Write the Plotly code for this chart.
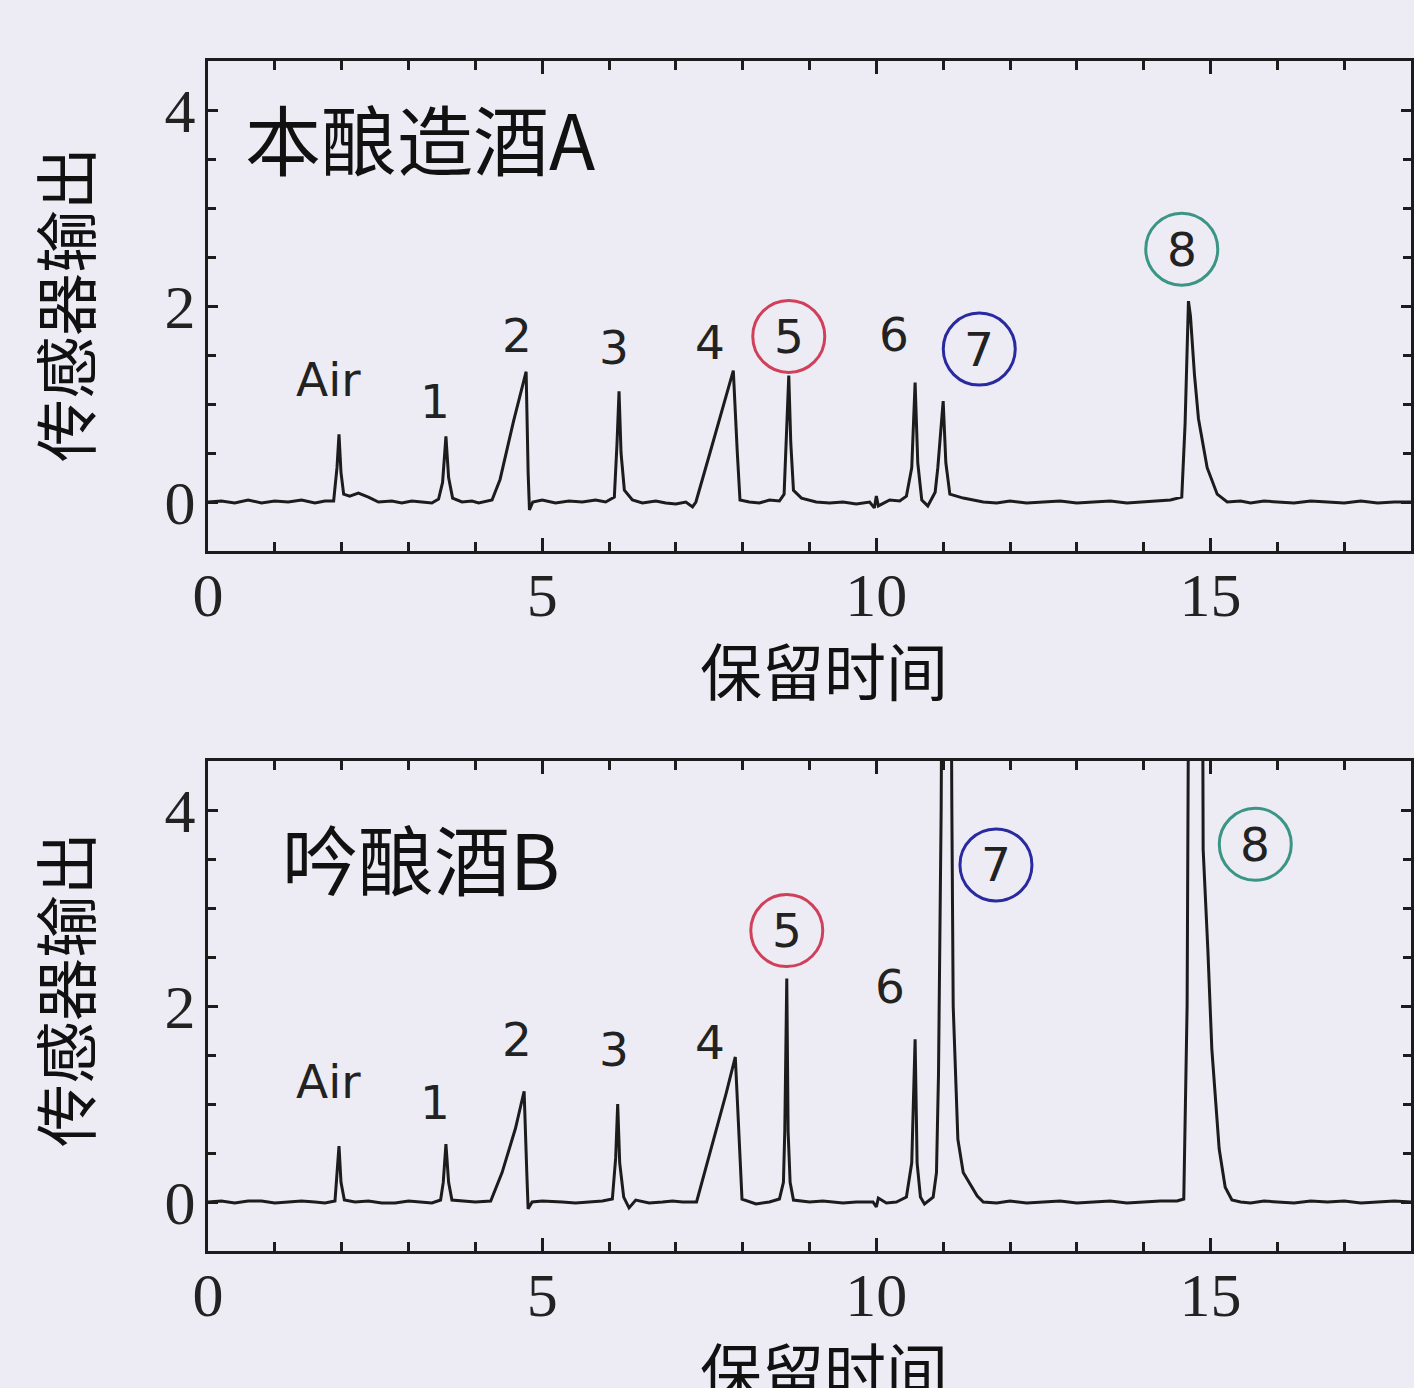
import plotly.graph_objects as go

# ---------------- data ----------------
time_A = [0.0, 0.2, 0.4, 0.6, 0.8, 1.0, 1.2, 1.4, 1.6, 1.75, 1.88, 1.93, 1.96, 1.99, 2.03, 2.12, 2.25,
          2.40, 2.55, 2.75, 2.9, 3.05, 3.2, 3.35, 3.45, 3.51, 3.56, 3.60, 3.66, 3.8, 3.95, 4.05, 4.25,
          4.37, 4.57, 4.76, 4.79, 4.81, 4.86, 5.0, 5.2, 5.4, 5.6, 5.8, 5.95, 6.08, 6.12, 6.15, 6.18,
          6.23, 6.35, 6.5, 6.7, 6.85, 7.0, 7.15, 7.25, 7.30, 7.51, 7.70, 7.86, 7.92, 7.96, 8.1, 8.25,
          8.4, 8.55, 8.62, 8.66, 8.69, 8.72, 8.76, 8.88, 9.0, 9.1, 9.3, 9.5, 9.7, 9.9, 9.97, 10.0,
          10.03, 10.2, 10.35, 10.45, 10.53, 10.58, 10.62, 10.68, 10.77, 10.88, 10.92, 11.0, 11.04,
          11.1, 11.3, 11.45, 11.6, 11.8, 12.0, 12.25, 12.5, 12.75, 13.0, 13.25, 13.5, 13.75, 14.0,
          14.2, 14.4, 14.57, 14.62, 14.67, 14.70, 14.76, 14.82, 14.95, 15.1, 15.25, 15.45, 15.6,
          15.8, 16.0, 16.25, 16.5, 16.75, 17.0, 17.25, 17.5, 17.75, 18.0]
signal_A = [0.0, 0.01, -0.01, 0.02, -0.01, 0.01, 0.0, 0.02, -0.01, 0.01, 0.01, 0.35, 0.69, 0.30, 0.08,
            0.06, 0.09, 0.05, 0.0, 0.01, -0.01, 0.01, 0.0, -0.01, 0.03, 0.20, 0.67, 0.25, 0.04, 0.0,
            0.01, -0.01, 0.02, 0.23, 0.82, 1.33, 0.30, -0.08, 0.0, 0.02, -0.01, 0.01, 0.0, 0.02, 0.0,
            0.05, 0.60, 1.13, 0.50, 0.12, 0.02, -0.01, 0.01, -0.01, -0.02, 0.0, -0.05, 0.0, 0.50,
            0.95, 1.34, 0.50, 0.02, 0.0, -0.01, 0.02, 0.01, 0.08, 0.70, 1.29, 0.60, 0.12, 0.04, 0.02,
            0.0, -0.01, 0.0, -0.02, 0.0, -0.06, 0.06, -0.04, 0.02, 0.01, 0.06, 0.35, 1.22, 0.40, 0.02,
            -0.04, 0.10, 0.35, 1.03, 0.40, 0.08, 0.04, 0.02, 0.0, -0.01, 0.01, -0.01, 0.0, 0.01,
            -0.01, 0.0, 0.01, -0.01, 0.0, 0.01, 0.02, 0.05, 0.80, 2.05, 1.90, 1.30, 0.85, 0.35, 0.08,
            0.0, 0.01, -0.01, 0.01, 0.0, -0.01, 0.01, 0.0, -0.01, 0.01, -0.01, 0.0, 0.0]

time_B = [0.0, 0.2, 0.4, 0.6, 0.8, 1.0, 1.2, 1.4, 1.6, 1.75, 1.90, 1.93, 1.96, 1.99, 2.04, 2.2, 2.4,
          2.6, 2.8, 3.0, 3.2, 3.35, 3.48, 3.52, 3.56, 3.60, 3.65, 3.8, 4.0, 4.23, 4.40, 4.60, 4.73,
          4.77, 4.79, 4.85, 5.0, 5.3, 5.5, 5.7, 5.9, 6.05, 6.10, 6.13, 6.16, 6.22, 6.30, 6.40, 6.6,
          6.8, 6.95, 7.1, 7.31, 7.55, 7.75, 7.89, 7.95, 7.99, 8.2, 8.4, 8.55, 8.61, 8.63, 8.66, 8.68,
          8.71, 8.76, 9.0, 9.2, 9.5, 9.7, 9.95, 10.0, 10.03, 10.15, 10.3, 10.45, 10.53, 10.58, 10.61,
          10.66, 10.72, 10.85, 10.90, 10.93, 10.97, 11.0, 11.10, 11.13, 11.15, 11.22, 11.30, 11.51,
          11.6, 11.8, 12.0, 12.25, 12.5, 12.75, 13.0, 13.25, 13.5, 13.75, 14.0, 14.25, 14.5, 14.60,
          14.65, 14.69, 14.87, 14.89, 14.96, 15.02, 15.13, 15.22, 15.32, 15.45, 15.6, 15.8, 16.0,
          16.25, 16.5, 16.75, 17.0, 17.25, 17.5, 17.75, 18.0]
signal_B = [0.0, 0.01, -0.01, 0.01, 0.01, -0.01, 0.0, 0.01, 0.0, -0.01, 0.01, 0.30, 0.57, 0.20, 0.02,
            0.0, 0.01, -0.01, -0.01, 0.01, 0.0, -0.01, 0.02, 0.20, 0.59, 0.20, 0.02, 0.01, 0.0, 0.01,
            0.30, 0.75, 1.13, 0.30, -0.07, 0.0, 0.01, 0.0, -0.01, 0.0, 0.01, 0.03, 0.45, 1.00, 0.40,
            0.05, -0.06, 0.02, -0.01, 0.0, 0.01, 0.0, 0.0, 0.60, 1.10, 1.48, 0.60, 0.03, -0.02, 0.0,
            0.03, 0.20, 0.72, 2.28, 0.72, 0.20, 0.02, 0.0, 0.01, -0.01, 0.0, 0.0, -0.05, 0.04, -0.01,
            0.0, 0.05, 0.40, 1.66, 0.40, 0.05, -0.02, 0.05, 0.30, 1.30, 4.00, 8.00, 8.00, 4.00, 2.00,
            0.64, 0.30, 0.06, 0.0, -0.01, 0.01, -0.01, 0.0, 0.01, -0.01, 0.0, 0.01, -0.01, 0.0,
            0.01, 0.01, 0.03, 2.00, 8.00, 8.00, 3.60, 2.58, 1.56, 0.54, 0.15, 0.02, 0.0, -0.01, 0.01,
            0.0, -0.01, 0.01, 0.0, 0.01, -0.01, 0.0, 0.01, 0.0]

x_tick_values = [0, 5, 10, 15]
y_tick_values = [0, 2, 4]
peak_names = ["Air", "1", "2", "3", "4", "5", "6", "7", "8"]
circled_peaks = ["5", "7", "8"]
panel_titles = ["本酿造酒A", "吟酿酒B"]
x_title = "保留时间"
y_title = "传感器输出"

# ---------------- style / layout ----------------
BG = "#EDECF5"
INK = "#1c1c1c"
circle_colors = {"5": "#d0405a", "7": "#2a2aa0", "8": "#3a9585"}

label_pos_A = {"Air": (1.80, 1.25), "1": (3.40, 1.03), "2": (4.62, 1.70), "3": (6.08, 1.58),
               "4": (7.51, 1.63), "5": (8.69, 1.69), "6": (10.26, 1.71), "7": (11.54, 1.56),
               "8": (14.57, 2.58)}
label_pos_B = {"Air": (1.80, 1.23), "1": (3.40, 1.02), "2": (4.62, 1.66), "3": (6.08, 1.56),
               "4": (7.51, 1.63), "5": (8.66, 2.77), "6": (10.20, 2.20), "7": (11.79, 3.44),
               "8": (15.67, 3.65)}

fig = go.Figure()
fig.add_trace(go.Scatter(x=time_A, y=signal_A, mode="lines", xaxis="x", yaxis="y",
                         line=dict(color=INK, width=3), showlegend=False, hoverinfo="skip"))
fig.add_trace(go.Scatter(x=time_B, y=signal_B, mode="lines", xaxis="x2", yaxis="y2",
                         line=dict(color=INK, width=3), showlegend=False, hoverinfo="skip"))

W, H = 1414, 1388
x_dom = [208 / W, 1411 / W]
yA_dom = [1 - 551 / H, 1 - 61 / H]
yB_dom = [1 - 1251 / H, 1 - 761 / H]

common = dict(showline=True, linecolor=INK, linewidth=3, mirror="allticks", ticks="inside",
              tickcolor=INK, tickwidth=2.5, showgrid=False, zeroline=False, automargin=False,
              tickfont=dict(family="Liberation Serif", size=62, color="#222"))

def xax(anchor):
    d = dict(common)
    d.update(range=[0, 18], tickmode="array", tickvals=x_tick_values, ticklen=13,
             domain=x_dom, anchor=anchor, ticklabelstandoff=-12,
             minor=dict(tickmode="linear", tick0=0, dtick=1, ticks="inside", ticklen=9,
                        tickwidth=2.5, tickcolor=INK, showgrid=False))
    return d

def yax(anchor, dom):
    d = dict(common)
    d.update(range=[-0.5, 4.5], tickmode="array", tickvals=y_tick_values, ticklen=10,
             domain=dom, anchor=anchor, ticklabelstandoff=-3,
             minor=dict(tickmode="linear", tick0=0, dtick=0.5, ticks="inside", ticklen=8,
                        tickwidth=2.5, tickcolor=INK, showgrid=False))
    return d

annotations = []
shapes = []
for xr, yr, pos, title, tpos, ytc, xtc in [
        ("x", "y", label_pos_A, panel_titles[0], (0.52, 3.72), 1 - 305 / H, 1 - 669 / H),
        ("x2", "y2", label_pos_B, panel_titles[1], (1.08, 3.52), 1 - 990 / H, 1 - 1369 / H)]:
    for name in peak_names:
        px, py = pos[name]
        annotations.append(dict(x=px, y=py, xref=xr, yref=yr, text=name, showarrow=False,
                                font=dict(family="DejaVu Sans", size=47, color="#222"),
                                xanchor="center", yanchor="middle"))
        if name in circled_peaks:
            shapes.append(dict(type="circle", xref=xr, yref=yr, xsizemode="pixel", ysizemode="pixel",
                               xanchor=px, yanchor=py, x0=-36, x1=36, y0=-36, y1=36,
                               line=dict(color=circle_colors[name], width=3)))
    annotations.append(dict(x=tpos[0], y=tpos[1], xref=xr, yref=yr, text=title, showarrow=False,
                            font=dict(family="Noto Sans CJK SC", size=76, color="#111"),
                            xanchor="left", yanchor="middle"))
    annotations.append(dict(x=62 / W, y=ytc, xref="paper", yref="paper", text=y_title,
                            showarrow=False, textangle=-90,
                            font=dict(family="Noto Sans CJK SC", size=63, color="#111"),
                            xanchor="center", yanchor="middle"))
    annotations.append(dict(x=824 / W, y=xtc, xref="paper", yref="paper", text=x_title,
                            showarrow=False,
                            font=dict(family="Noto Sans CJK SC", size=62, color="#111"),
                            xanchor="center", yanchor="middle"))

fig.update_layout(
    width=W, height=H, margin=dict(l=0, r=0, t=0, b=0, autoexpand=False),
    paper_bgcolor=BG, plot_bgcolor=BG,
    xaxis=xax("y"), yaxis=yax("x", yA_dom),
    xaxis2=xax("y2"), yaxis2=yax("x2", yB_dom),
    annotations=annotations, shapes=shapes,
)

fig.write_html("out.html", config={"displayModeBar": False},
               post_script="document.body.style.margin='0';document.body.style.background='%s';"
                           "document.body.style.overflow='hidden';" % BG)
